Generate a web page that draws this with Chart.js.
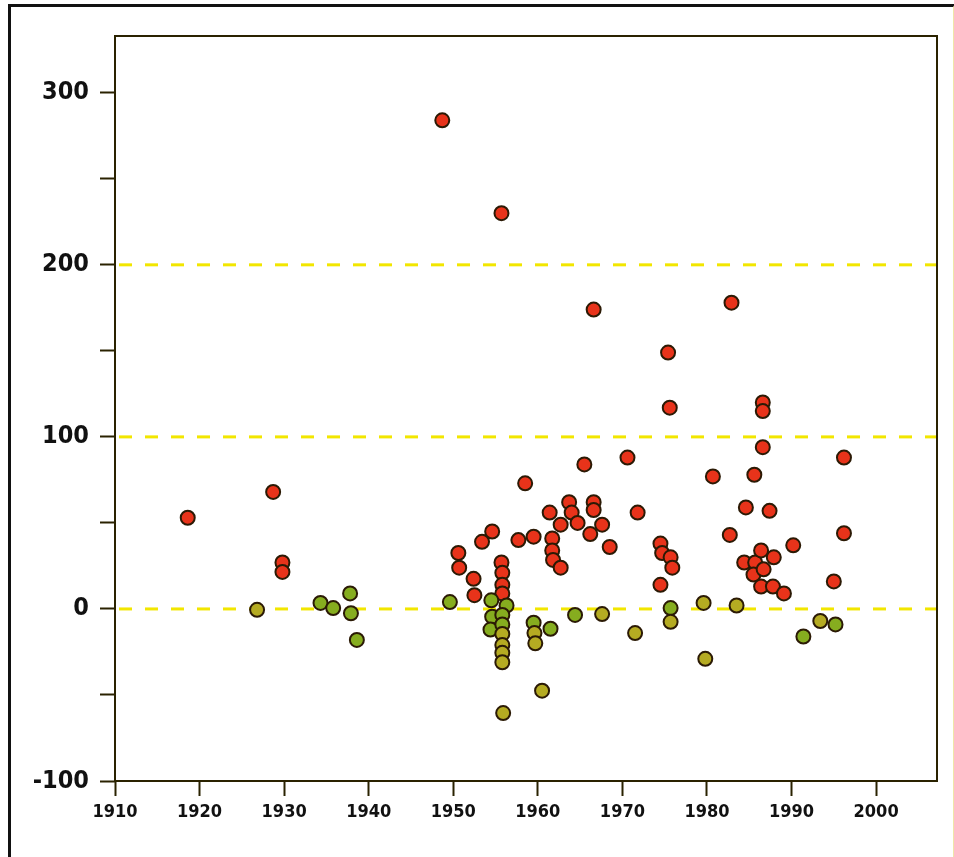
<!DOCTYPE html>
<html>
<head>
<meta charset="utf-8">
<script src="https://cdn.jsdelivr.net/npm/chart.js@4"></script>
<style>
  body { margin: 0; background: #fff; }
  #frame {
    position: absolute; left: 8px; top: 4px; width: 942px; height: 850px;
    border-left: 3px solid #111; border-top: 3px solid #111;
    border-right: 2px solid #efe6a8; border-bottom: 2px solid #efe6a8;
  }
  #myChart { position: absolute; left: 0; top: 0; }
</style>
</head>
<body>
<div id="frame"></div>
<canvas id="myChart" width="954" height="857"></canvas>
<script>
// Points (year, value), split by marker colour
const redYears = [1918.6, 1928.7, 1929.8, 1929.8, 1948.7, 1950.6, 1950.7, 1952.4, 1952.5, 1953.4,
    1954.6, 1955.7, 1955.7, 1955.8, 1955.8, 1955.8, 1957.7, 1958.5, 1959.5, 1961.4,
    1961.7, 1961.7, 1961.8, 1962.7, 1962.7, 1963.7, 1964.0, 1964.7, 1965.5, 1966.6,
    1966.6, 1967.6, 1966.2, 1966.6, 1968.5, 1970.6, 1971.8, 1974.5, 1974.7, 1975.7,
    1975.9, 1974.5, 1975.4, 1975.6, 1980.7, 1982.9, 1982.7, 1984.6, 1985.6, 1984.4,
    1985.7, 1985.5, 1986.6, 1986.6, 1986.6, 1986.4, 1986.7, 1986.4, 1987.4, 1987.9,
    1987.8, 1989.1, 1990.2, 1995.0, 1996.2, 1996.2];
const redValues = [53, 68, 27, 21.5, 284, 32.5, 24, 17.5, 8, 39,
    45, 230, 27, 21, 14, 9, 40, 73, 42, 56,
    41, 34, 28.5, 24, 49, 62, 56, 50, 84, 62,
    57.5, 49, 43.5, 174, 36, 88, 56, 38, 32.5, 30,
    24, 14, 149, 117, 77, 178, 43, 59, 78, 27,
    27, 20, 120, 115, 94, 34, 23, 13, 57, 30,
    13, 9, 37, 16, 44, 88];

const greenYears = [1934.3, 1935.8, 1937.8, 1937.9, 1938.6, 1949.6, 1954.5, 1956.3, 1954.6, 1955.8,
    1954.4, 1955.8, 1959.5, 1961.5, 1964.4, 1975.7, 1991.4, 1995.2];
const greenValues = [3.5, 0.5, 9, -2.5, -18, 4, 5, 2, -4.5, -3.5,
    -12, -9, -8, -11.5, -3.5, 0.5, -16, -9];

const oliveYears = [1926.8, 1955.8, 1955.8, 1955.8, 1955.8, 1959.6, 1959.7, 1960.5, 1955.9, 1967.6,
    1971.5, 1975.7, 1979.6, 1979.8, 1983.5, 1993.4];
const oliveValues = [-0.5, -14.5, -21, -25.5, -31, -14, -20, -47.5, -60.5, -3,
    -14, -7.5, 3.5, -29, 2, -7];

const yTickValues = [-100, -50, 0, 50, 100, 150, 200, 250, 300];
const yTickLabels = ['-100', '', '0', '', '100', '', '200', '', '300'];
const xTickValues = [1910, 1920, 1930, 1940, 1950, 1960, 1970, 1980, 1990, 2000];
const refLines = [0, 100, 200];

function toPoints(xs, ys) {
    return xs.map((x, i) => ({ x: x, y: ys[i] }));
}

// Vẽ khung ô biểu đồ và các đường tham chiếu đứt nét
const boxPlugin = {
    id: 'boxPlugin',
    beforeDatasetsDraw(chart) {
        const { ctx, chartArea, scales } = chart;
        ctx.save();
        ctx.strokeStyle = '#f2e600';
        ctx.lineWidth = 3;
        ctx.setLineDash([13, 13]);
        refLines.forEach(v => {
            const y = scales.y.getPixelForValue(v);
            ctx.beginPath();
            ctx.moveTo(chartArea.left + 4, y);
            ctx.lineTo(chartArea.right, y);
            ctx.stroke();
        });
        ctx.restore();
    },
    afterDraw(chart) {
        const { ctx, chartArea } = chart;
        ctx.save();
        ctx.strokeStyle = '#2a2200';
        ctx.lineWidth = 2;
        ctx.strokeRect(chartArea.left, chartArea.top, chartArea.right - chartArea.left, chartArea.bottom - chartArea.top);
        ctx.restore();
    }
};

const pointStyle = {
    pointRadius: 7,
    pointHoverRadius: 7,
    borderWidth: 2,
    borderColor: '#2b1a05'
};

const tickFont = '"Liberation Sans Narrow", "DejaVu Sans Condensed", sans-serif';

const ctx = document.getElementById('myChart').getContext('2d');
new Chart(ctx, {
    type: 'scatter',
    data: {
        datasets: [
            Object.assign({ label: 'olive', data: toPoints(oliveYears, oliveValues), backgroundColor: '#b5ab22' }, pointStyle),
            Object.assign({ label: 'green', data: toPoints(greenYears, greenValues), backgroundColor: '#86ad1f' }, pointStyle),
            Object.assign({ label: 'red', data: toPoints(redYears, redValues), backgroundColor: '#e8331a' }, pointStyle)
        ]
    },
    options: {
        responsive: false,
        animation: false,
        layout: { padding: { left: 0, top: 36, right: 17, bottom: 0 } },
        plugins: { legend: { display: false }, tooltip: { enabled: false } },
        scales: {
            x: {
                type: 'linear',
                min: 1910,
                max: 2007.2,
                afterBuildTicks: s => { s.ticks = xTickValues.map(v => ({ value: v })); },
                afterFit: s => { s.height = 76; },
                grid: { drawOnChartArea: false, drawTicks: true, tickLength: 15, tickColor: '#2a2200', tickWidth: 2 },
                border: { display: false },
                ticks: {
                    color: '#111',
                    padding: 6,
                    maxRotation: 0,
                    autoSkip: false,
                    font: { family: tickFont, size: 18, weight: 'bold' },
                    callback: v => String(v)
                }
            },
            y: {
                type: 'linear',
                min: -100,
                max: 333,
                afterBuildTicks: s => { s.ticks = yTickValues.map(v => ({ value: v })); },
                afterFit: s => { s.width = 115; },
                grid: { drawOnChartArea: false, drawTicks: true, tickLength: 15, tickColor: '#2a2200', tickWidth: 2 },
                border: { display: false },
                ticks: {
                    color: '#111',
                    padding: 11,
                    autoSkip: false,
                    font: { family: tickFont, size: 25, weight: 'bold' },
                    callback: (v, i) => yTickLabels[i]
                }
            }
        }
    },
    plugins: [boxPlugin]
});
</script>
</body>
</html>
